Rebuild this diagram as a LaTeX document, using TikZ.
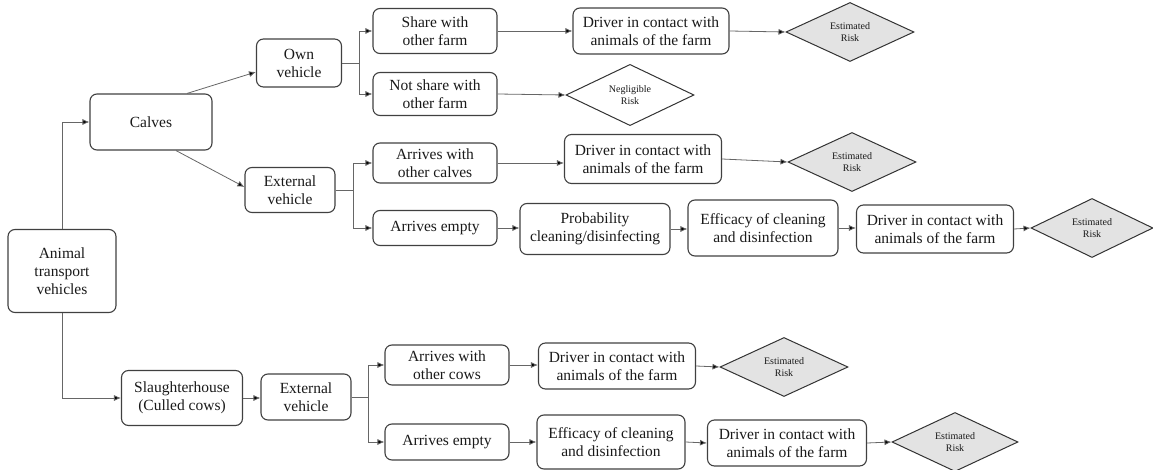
\documentclass[tikz,border=0pt]{standalone}
\usepackage{fontspec}
\setmainfont{Liberation Serif}
\usetikzlibrary{shapes.geometric,arrows.meta}
\tikzset{
  box/.style={draw=black!75, line width=1.1pt, rounded corners=7pt, align=center, inner sep=0pt,
     font=\rmfamily\fontsize{15.5}{18}\selectfont, text=black!90},
  risk/.style={diamond, draw=black!80, line width=1pt, fill=black!11, inner sep=0pt, align=center,
     font=\rmfamily\fontsize{10}{12}\selectfont, text=black!90, minimum width=128pt, minimum height=37pt},
  conn/.style={draw=black!60, line width=0.8pt, -{Latex[length=7pt,width=6pt,fill=black]}},
  seg/.style={draw=black!60, line width=0.8pt}
}
\begin{document}
\begin{tikzpicture}[x=1pt,y=-1pt]
\useasboundingbox (0,0) rectangle (1153,470);
% level 0
\node[box, minimum width=108pt, minimum height=83pt] (animal) at (62,271) {Animal\\transport\\vehicles};
% calves branch
\node[box, minimum width=122pt, minimum height=56pt] (calves) at (151,122) {Calves};
\node[box, minimum width=85pt, minimum height=48pt] (own) at (299,63) {Own\\vehicle};
\node[box, minimum width=90pt, minimum height=45pt] (ext1) at (290,190) {External\\vehicle};
\node[box, minimum width=124pt, minimum height=45pt] (share) at (435,31) {Share with\\other farm};
\node[box, minimum width=124pt, minimum height=43pt] (notshare) at (435,94) {Not share with\\other farm};
\node[box, minimum width=156pt, minimum height=46pt] (drv1) at (651,31) {Driver in contact with\\animals of the farm};
\node[risk] (r1) at (850,32) {Estimated\\Risk};
\node[risk, fill=white] (neg) at (630,95) {Negligible\\Risk};
\node[box, minimum width=124pt, minimum height=40pt] (arr1) at (435,163) {Arrives with\\other calves};
\node[box, minimum width=157pt, minimum height=49pt] (drv2) at (643,159) {Driver in contact with\\animals of the farm};
\node[risk] (r2) at (852,162) {Estimated\\Risk};
\node[box, minimum width=124pt, minimum height=35pt] (arrE1) at (435,228) {Arrives empty};
\node[box, minimum width=150pt, minimum height=51pt] (prob) at (595,229) {Probability\\cleaning/disinfecting};
\node[box, minimum width=150pt, minimum height=56pt] (eff1) at (763,228) {Efficacy of cleaning\\and disinfection};
\node[box, minimum width=157pt, minimum height=48pt] (drv3) at (935,229) {Driver in contact with\\animals of the farm};
\node[risk, minimum width=122pt] (r3) at (1092,228) {Estimated\\Risk};
% slaughterhouse branch
\node[box, minimum width=121pt, minimum height=55pt] (slaughter) at (182,398) {Slaughterhouse\\(Culled cows)};
\node[box, minimum width=90pt, minimum height=46pt] (ext2) at (306,397) {External\\vehicle};
\node[box, minimum width=124pt, minimum height=40pt] (arr2) at (447,365) {Arrives with\\other cows};
\node[box, minimum width=157pt, minimum height=46pt] (drv4) at (617,366) {Driver in contact with\\animals of the farm};
\node[risk] (r4) at (784,367) {Estimated\\Risk};
\node[box, minimum width=124pt, minimum height=36pt] (arrE2) at (447,442) {Arrives empty};
\node[box, minimum width=148pt, minimum height=54pt] (eff2) at (611,442) {Efficacy of cleaning\\and disinfection};
\node[box, minimum width=159pt, minimum height=46pt] (drv5) at (787,443) {Driver in contact with\\animals of the farm};
\node[risk, minimum width=126pt] (r5) at (955,442) {Estimated\\Risk};
% junction coordinates
\coordinate (j1) at (359,63);
\coordinate (j2) at (353,190);
\coordinate (j3) at (368,397);
% connectors
\draw[conn] (animal.north) |- (calves.west);
\draw[conn] (animal.south) |- (slaughter.west);
\draw[conn] ([xshift=36pt]calves.north) -- ([yshift=-9pt]own.west);
\draw[conn] ([xshift=25pt]calves.south) -- ([yshift=3pt]ext1.west);
\draw[seg] (own.east) -- (j1);
\draw[conn] (j1) |- (share.west);
\draw[conn] (j1) |- (notshare.west);
\draw[seg] (ext1.east) -- (j2);
\draw[conn] (j2) |- (arr1.west);
\draw[conn] (j2) |- (arrE1.west);
\draw[conn] (share.east) -- (drv1.west);
\draw[conn] (drv1.east) -- (r1.west);
\draw[conn] (notshare.east) -- (neg.west);
\draw[conn] (arr1.east) -- (arr1.east -| drv2.west);
\draw[conn] (drv2.east) -- (r2.west);
\draw[conn] (arrE1.east) -- (arrE1.east -| prob.west);
\draw[conn] (prob.east) -- (prob.east -| eff1.west);
\draw[conn] (eff1.east) -- (eff1.east -| drv3.west);
\draw[conn] (drv3.east) -- (r3.west);
\draw[conn] (slaughter.east) -- (slaughter.east -| ext2.west);
\draw[seg] (ext2.east) -- (j3);
\draw[conn] (j3) |- (arr2.west);
\draw[conn] (j3) |- (arrE2.west);
\draw[conn] (arr2.east) -- (arr2.east -| drv4.west);
\draw[conn] (drv4.east) -- (r4.west);
\draw[conn] (arrE2.east) -- (eff2.west);
\draw[conn] (eff2.east) -- (drv5.west);
\draw[conn] (drv5.east) -- (r5.west);
\end{tikzpicture}
\end{document}
